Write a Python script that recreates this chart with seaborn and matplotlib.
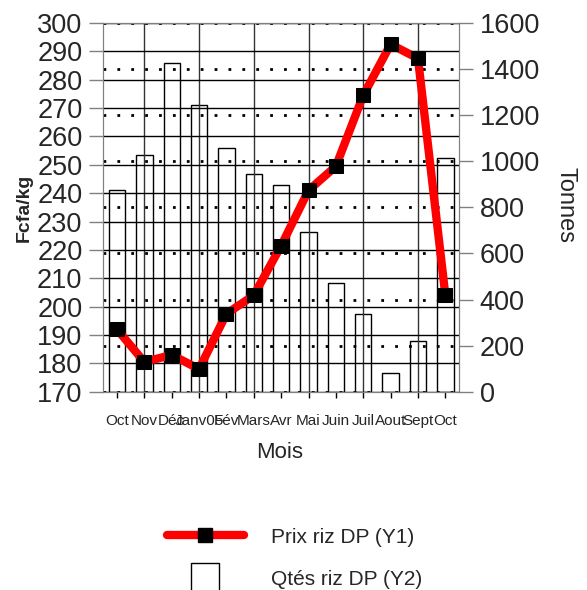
import matplotlib
matplotlib.use("Agg")
import matplotlib.pyplot as plt
from matplotlib.lines import Line2D
import pandas as pd
import seaborn as sns

# données
mois = ["Oct", "Nov", "Déc", "Janv05", "Fév", "Mars", "Avr", "Mai", "Juin", "Juil", "Aout", "Sept", "Oct"]
prix = [192, 180.5, 183, 178, 197.5, 204, 221.5, 241, 249.5, 274.5, 292.5, 287.5, 204]
qtes = [876, 1026, 1428, 1244, 1059, 945, 899, 692, 472, 336, 83, 221, 1014]
prix_ticks = list(range(170, 301, 10))
qtes_ticks = list(range(0, 1601, 200))

df = pd.DataFrame({"pos": range(len(mois)), "prix": prix, "qtes": qtes})

sns.set_style("white")
plt.rcParams["font.family"] = ["Liberation Sans", "DejaVu Sans"]

fig = plt.figure(figsize=(5.87, 5.90), dpi=100)
ax = fig.add_axes([0.176, 0.336, 0.606, 0.625])
ax2 = ax.twinx()

#----- barres : quantités (axe de droite)
sns.barplot(data=df, x="pos", y="qtes", ax=ax2, width=0.6, fill=False,
            color="black", linewidth=1, errorbar=None)

#----- courbe : prix (axe de gauche)
sns.lineplot(data=df, x="pos", y="prix", ax=ax, color="red", lw=6,
             marker="s", markersize=10, markerfacecolor="black",
             markeredgecolor="black")

ax.set_zorder(ax2.get_zorder() + 1)
ax.patch.set_visible(False)

ax.set_xlim(-0.5, len(mois) - 0.5)
ax.set_ylim(170, 300)
ax2.set_ylim(0, 1600)
ax.set_yticks(prix_ticks)
ax2.set_yticks(qtes_ticks)
ax.set_xticks(range(len(mois)))
ax.set_xticklabels(mois)

# grilles
ax.yaxis.grid(True, color="black", lw=1)
ax.xaxis.grid(False)
ax2.yaxis.grid(True, color="black", lw=2, ls=(0, (1, 4)))
ax2.xaxis.grid(False)
for i in range(1, len(mois), 2):
    ax.axvline(i, color="#333333", lw=1, zorder=0)

ax.tick_params(axis="y", labelsize=19.5, length=10, width=1, color="#808080", pad=5, left=True)
ax2.tick_params(axis="y", labelsize=19.5, length=10, width=1, color="#808080", pad=5, right=True)
ax.tick_params(axis="x", labelsize=11, length=4, width=1, color="black", pad=12, bottom=True)
for a in (ax, ax2):
    a.set_xlabel("")
    a.set_ylabel("")
    for s in a.spines.values():
        s.set_color("#808080")

fig.text(24 / 587, 1 - 208 / 590, "Fcfa/kg", rotation=90, fontsize=14,
         fontweight="bold", ha="center", va="center")
fig.text(565 / 587, 1 - 205 / 590, "Tonnes", rotation=270, fontsize=17,
         ha="center", va="center")
fig.text(280 / 587, 1 - 452 / 590, "Mois", fontsize=16, ha="center", va="center")

h1 = Line2D([], [], color="red", lw=6, marker="s", markersize=10,
            markerfacecolor="black", markeredgecolor="black")
h2 = Line2D([], [], ls="none", marker="s", markersize=20,
            markerfacecolor="white", markeredgecolor="black", markeredgewidth=1)
fig.legend([h1, h2], ["Prix riz DP (Y1)", "Qtés riz DP (Y2)"], loc="upper left",
           bbox_to_anchor=(148 / 587, 1 - 509 / 590), frameon=False, fontsize=15,
           handlelength=3.7, labelspacing=1.1, handletextpad=1.3)

fig.savefig("out.png", dpi=100)
